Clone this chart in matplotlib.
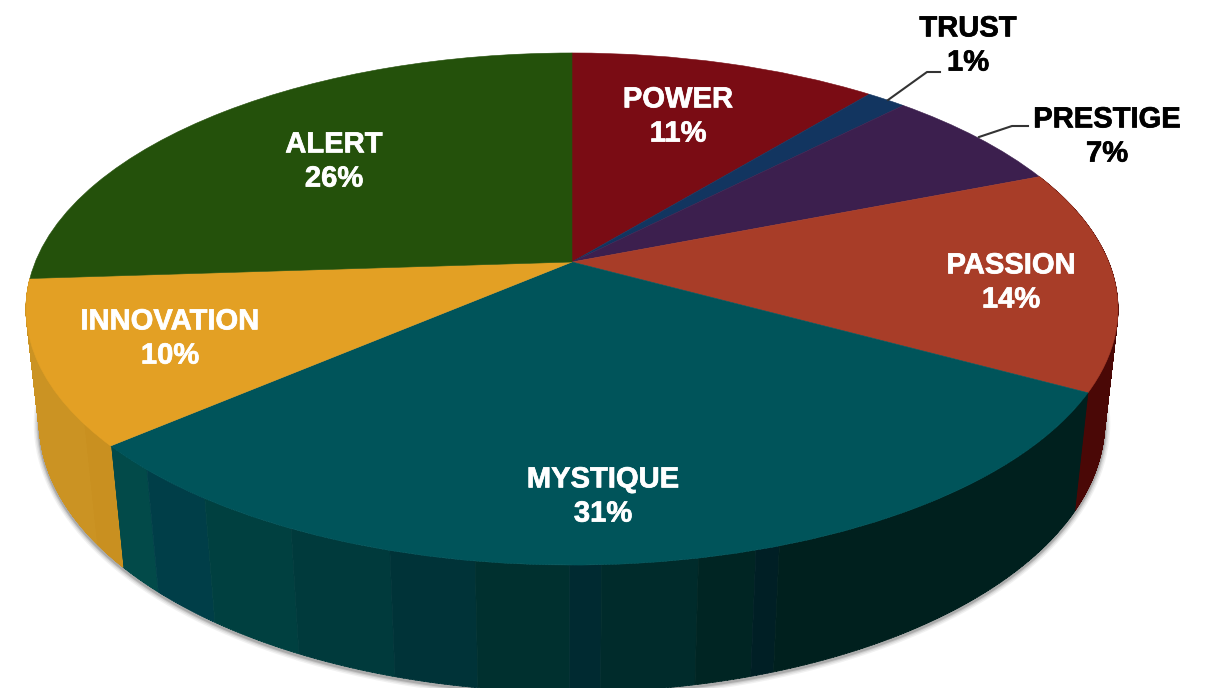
import numpy as np
import matplotlib
matplotlib.use("Agg")
import matplotlib.pyplot as plt
import matplotlib.patheffects as pe
from matplotlib.transforms import Transform
from matplotlib.path import Path
from matplotlib.patches import PathPatch

categories = ["POWER", "TRUST", "PRESTIGE", "PASSION", "MYSTIQUE", "INNOVATION", "ALERT"]
shares = [10.9, 1.4, 6.7, 14.0, 30.65, 10.3, 26.05]
pct_labels = ["11%", "1%", "7%", "14%", "31%", "10%", "26%"]
top_colors = ["#7A0C14", "#123560", "#3C1F4E", "#A83D28", "#00545A", "#E3A024", "#24510B"]

label_xy = [(678, 115), (968, 44), (1107, 135), (1011, 281), (603, 495), (170, 337), (334, 160)]
label_colors = ["white", "black", "black", "white", "white", "white", "white"]

# Side-wall shading: (right edge in image x, colour)
wall_bands = {
    "PASSION": [(1300, "#4A0806")],
    "MYSTIQUE": [(147, "#024A49"), (205, "#003E48"), (290, "#004040"), (390, "#003A3C"),
                 (475, "#003338"), (570, "#00302F"), (600, "#002A31"), (700, "#002B2B"),
                 (755, "#002523"), (780, "#001F25"), (1300, "#00201E")],
    "INNOVATION": [(85, "#CB9323"), (1300, "#C99020")],
}

# Camera model of the tilted disc
CX, CY = 572.0, 262.0
BX, AY, K = 536.7, 247.4, 0.1836
MZ, CZ = 0.024, 114.0


def project(u, v, z=0.0):
    w = 1 + K * v + MZ * z
    return CX + BX * u / w, CY + (-AY * v + CZ * z) / w


class DiscTransform(Transform):
    input_dims = 2
    output_dims = 2
    is_affine = False

    def transform_non_affine(self, values):
        values = np.asarray(values, dtype=float)
        x, y = project(values[:, 0], values[:, 1])
        return np.column_stack([x, y])


fig = plt.figure(figsize=(12.09, 6.88), dpi=100, facecolor="white")
ax = fig.add_axes([0, 0, 1, 1])

wedges, _ = ax.pie(shares, colors=top_colors, startangle=90, counterclock=False,
                   radius=1.0, wedgeprops={"linewidth": 0.4})
ax.set_aspect("auto")
ax.set_xlim(0, 1209)
ax.set_ylim(688, 0)
ax.axis("off")
disc = DiscTransform() + ax.transData
for w, c in zip(wedges, top_colors):
    w.set_transform(disc)
    w.set_edgecolor(c)
    w.set_zorder(5)

# Side walls built from the same shares
edges = np.concatenate([[0], np.cumsum(shares)]) / sum(shares) * 2 * np.pi


def rim(theta, z):
    return project(np.sin(theta), np.cos(theta), z)


# soft shadow along the lower rim
front = np.linspace(edges[3] - 0.3, edges[6] + 0.05, 300)
sx, sy = rim(front, 1)
for lw, a in [(8, 0.07), (6, 0.10), (4, 0.14), (2.5, 0.22)]:
    ax.plot(sx, sy + 1.5, color="#444444", lw=lw, alpha=a, zorder=1,
            solid_capstyle="round")

CLOSE = [Path.MOVETO, Path.LINETO, Path.LINETO, Path.LINETO, Path.CLOSEPOLY]


def oriented_quad(p):
    x, y = p[:, 0], p[:, 1]
    area = np.sum(x * np.roll(y, -1) - np.roll(x, -1) * y)
    return p if area >= 0 else p[::-1]


for i, name in enumerate(categories):
    bands = wall_bands.get(name)
    if bands is None:
        continue
    thetas = np.linspace(edges[i], edges[i + 1], 400)
    tx, ty = rim(thetas, 0)
    bx, by = rim(thetas, 1)
    mids = 0.5 * (tx[:-1] + tx[1:])
    idx = np.array([next(n for n, (edge, _) in enumerate(bands) if x <= edge) for x in mids])
    for n in np.unique(idx):
        verts, codes = [], []
        for j in np.flatnonzero(idx == n):
            quad = np.array([[tx[j], ty[j]], [tx[j + 1], ty[j + 1]],
                             [bx[j + 1], by[j + 1]], [bx[j], by[j]]])
            quad = oriented_quad(quad)
            verts.extend(list(quad) + [quad[0]])
            codes.extend(CLOSE)
        col = bands[n][1]
        ax.add_patch(PathPatch(Path(np.array(verts), codes), facecolor=col, edgecolor=col,
                               linewidth=0.5, zorder=3))

font = ["Liberation Sans", "DejaVu Sans"]
for name, pct, (x, y), col in zip(categories, pct_labels, label_xy, label_colors):
    t = ax.text(x, y + 1.5, f"{name}\n{pct}", ha="center", va="center", color=col,
                family=font, weight="bold", fontsize=21, linespacing=1.28, zorder=8)
    t.set_path_effects([pe.withStroke(linewidth=0.5, foreground=col)])

# Leader lines for the two outside labels
ax.plot([888, 927, 940], [100, 72, 72], color="#333333", lw=1.5, zorder=6)
ax.plot([979, 1012, 1028], [137, 126, 126], color="#333333", lw=1.5, zorder=6)

fig.savefig("out.png", dpi=100, facecolor="white")
